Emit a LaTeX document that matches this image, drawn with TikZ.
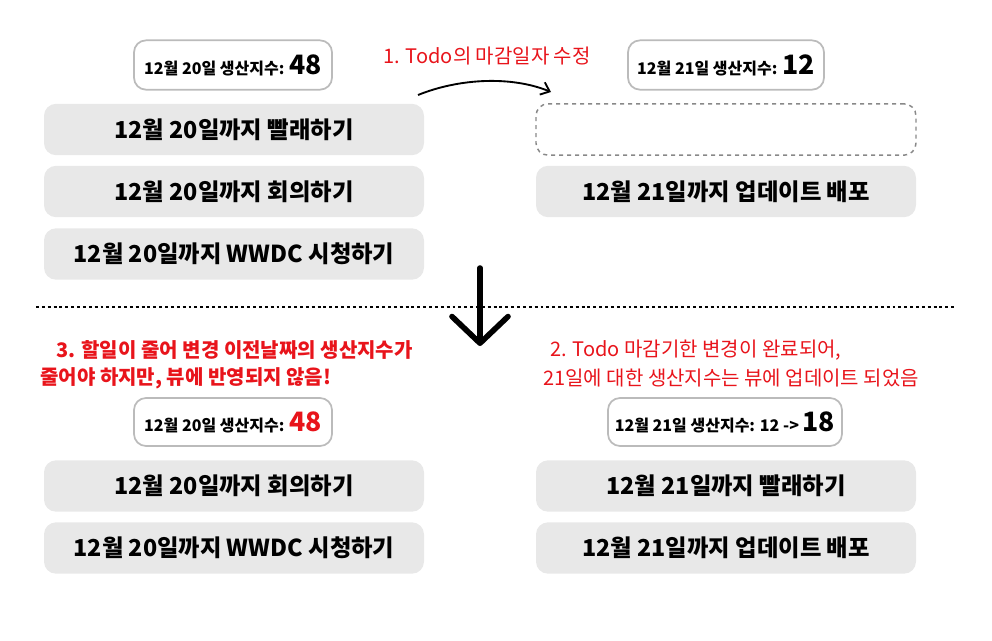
\documentclass[tikz,border=0pt]{standalone}
\usepackage{fontspec}
\setmainfont{Noto Sans CJK KR}
\usetikzlibrary{arrows.meta}
\definecolor{boxgray}{HTML}{E8E8E8}
\definecolor{hdrline}{HTML}{BBBBBB}
\definecolor{dashgray}{HTML}{888888}
\definecolor{lblred}{HTML}{E8141B}
\begin{document}
\begin{tikzpicture}[x=0.75pt,y=-0.75pt,
  todobox/.style={rectangle, rounded corners=9pt, fill=boxgray, minimum width=285pt, minimum height=38.5pt, inner sep=0pt, font=\fontsize{17.5pt}{19pt}\selectfont\bfseries},
  emptybox/.style={rectangle, rounded corners=9pt, draw=dashgray, dashed, line width=1.1pt, minimum width=285pt, minimum height=38.5pt, inner sep=0pt},
  hdrbox/.style={rectangle, rounded corners=9pt, draw=hdrline, line width=1.3pt, fill=white, minimum height=37pt, inner sep=0pt, font=\fontsize{12pt}{14pt}\selectfont\bfseries},
  redlbl/.style={text=lblred, inner sep=0pt, font=\fontsize{15pt}{17pt}\selectfont},
  bignum/.style={}
]
\useasboundingbox (0,0) rectangle (992,640);

% top left
\node[hdrbox, minimum width=148.5pt] (h1) at (233,65) {12월 20일 생산지수: {\fontsize{20pt}{22pt}\selectfont 48}};
\node[todobox] (a1) at (234,129.5) {12월 20일까지 빨래하기};
\node[todobox] (a2) at (234,191.5) {12월 20일까지 회의하기};
\node[todobox] (a3) at (234,254) {12월 20일까지 WWDC 시청하기};

% top right
\node[hdrbox, minimum width=147pt] (h2) at (726,65) {12월 21일 생산지수: {\fontsize{20pt}{22pt}\selectfont 12}};
\node[emptybox] (b0) at (726,129.5) {};
\node[todobox] (b1) at (726,191.5) {12월 21일까지 업데이트 배포};

\node[redlbl] (l1) at (487,56) {1. Todo의 마감일자 수정};
\coordinate (c1s) at (418,95);
\coordinate (c1e) at (551,92);
\draw[line width=1.4pt, -{Straight Barb[length=6pt,width=10pt]}] (c1s) .. controls (460,78) and (512,76) .. (c1e);

% divider
\coordinate (d1) at (36,307);
\coordinate (d2) at (956,307);
\draw[line width=1.3pt, dash pattern=on 2.2pt off 2.2pt] (d1) -- (d2);

% big arrow
\coordinate (ar1) at (480,268);
\coordinate (ar2) at (480,346);
\draw[line width=4.2pt, line cap=round, -{Straight Barb[length=20pt,width=42pt,line cap=round,round]}] (ar1) -- (ar2);

% bottom left
\node[redlbl, anchor=west, font=\fontsize{15pt}{17pt}\selectfont\bfseries] (l3a) at (56,350) {3. 할일이 줄어 변경 이전날짜의 생산지수가};
\node[redlbl, anchor=west, font=\fontsize{15pt}{17pt}\selectfont\bfseries] (l3b) at (40,378) {줄어야 하지만, 뷰에 반영되지 않음!};
\node[hdrbox, minimum width=148.5pt, minimum height=36pt] (h3) at (233,422) {12월 20일 생산지수: {\fontsize{20pt}{22pt}\selectfont\color{lblred}48}};
\node[todobox] (c1) at (234,486) {12월 20일까지 회의하기};
\node[todobox] (c2) at (234,548) {12월 20일까지 WWDC 시청하기};

% bottom right
\node[redlbl, anchor=west] (l2a) at (550,350) {2. Todo 마감기한 변경이 완료되어,};
\node[redlbl, anchor=west] (l2b) at (543,378) {21일에 대한 생산지수는 뷰에 업데이트 되었음};
\node[hdrbox, minimum width=175.5pt, minimum height=36pt] (h4) at (725,422) {12월 21일 생산지수: 12 -> {\fontsize{20pt}{22pt}\selectfont 18}};
\node[todobox] (e1) at (726,486) {12월 21일까지 빨래하기};
\node[todobox] (e2) at (726,548) {12월 21일까지 업데이트 배포};
\end{tikzpicture}
\end{document}
